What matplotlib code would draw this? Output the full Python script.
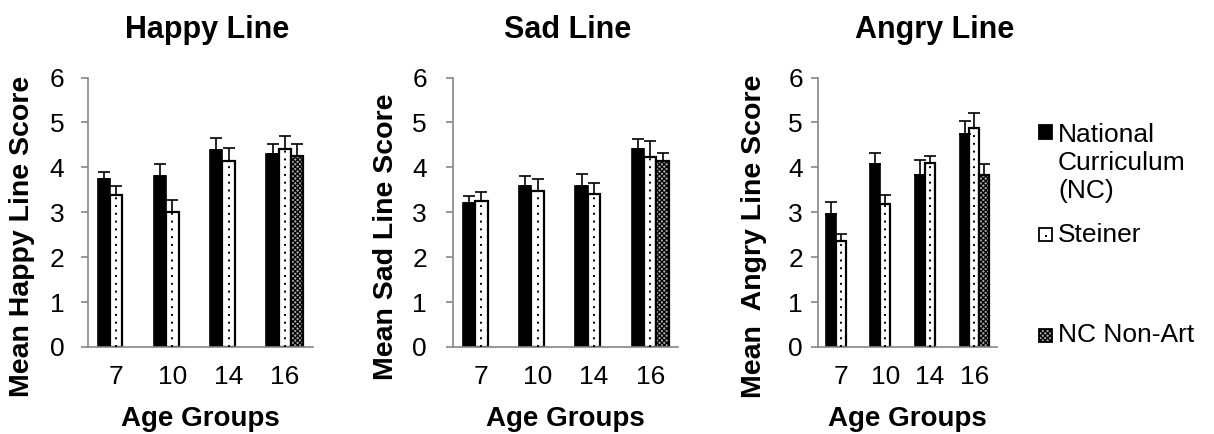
import numpy as np
import matplotlib
matplotlib.use("Agg")
import matplotlib.pyplot as plt
from matplotlib.patches import Rectangle

plt.rcParams['font.family'] = ['Liberation Sans', 'DejaVu Sans']
plt.rcParams['hatch.linewidth'] = 0.9

# data
age_groups = ['7', '10', '14', '16']

happy_nc = [3.75, 3.80, 4.38, 4.29]
happy_nc_err = [0.14, 0.28, 0.28, 0.22]
happy_st = [3.39, 3.00, 4.15, 4.40]
happy_st_err = [0.19, 0.28, 0.28, 0.29]
happy_na = [np.nan, np.nan, np.nan, 4.26]
happy_na_err = [0, 0, 0, 0.25]

sad_nc = [3.21, 3.58, 3.58, 4.41]
sad_nc_err = [0.15, 0.22, 0.28, 0.22]
sad_st = [3.26, 3.48, 3.40, 4.23]
sad_st_err = [0.20, 0.27, 0.26, 0.35]
sad_na = [np.nan, np.nan, np.nan, 4.14]
sad_na_err = [0, 0, 0, 0.17]

angry_nc = [2.97, 4.08, 3.83, 4.75]
angry_nc_err = [0.25, 0.23, 0.34, 0.28]
angry_st = [2.35, 3.19, 4.10, 4.88]
angry_st_err = [0.16, 0.20, 0.15, 0.32]
angry_na = [np.nan, np.nan, np.nan, 3.82]
angry_na_err = [0, 0, 0, 0.26]

W, H = 1214, 434
fig = plt.figure(figsize=(W / 100, H / 100), dpi=100)

def px_box(left, right, bottom, top):
    return [left / W, 1 - bottom / H, (right - left) / W, (bottom - top) / H]

GRAY = '#868686'
NA_FILL = '#a6a6a6'
BW = 0.22


def draw_panel(ax, nc, nc_err, st, st_err, na, na_err, ylabel, ylab_x, ytick_pad):
    x = np.arange(len(age_groups))
    zeros = np.zeros(len(x))
    ax.bar(x - BW, nc, BW, color='black', edgecolor='black', linewidth=1.2, zorder=2)
    ax.bar(x, st, BW, color='white', edgecolor='black', linewidth=1.6, zorder=2)
    ax.vlines(x, 0, st, colors='black', linestyles=(0, (1, 3)), linewidth=1.4, zorder=3)
    ax.bar(x + BW, na, BW, color=NA_FILL, edgecolor='black', hatch='xxxxxxx',
           linewidth=1.6, zorder=2)
    ax.errorbar(x - BW, nc, yerr=[zeros, nc_err], fmt='none', ecolor='black',
                elinewidth=1.2, capsize=4.5, capthick=1.2, zorder=4)
    ax.errorbar(x, st, yerr=[zeros, st_err], fmt='none', ecolor='black',
                elinewidth=1.2, capsize=4.5, capthick=1.2, zorder=4)
    ax.errorbar(x + BW, na, yerr=[zeros, na_err], fmt='none', ecolor='black',
                elinewidth=1.2, capsize=4.5, capthick=1.2, zorder=4)

    ax.set_xlim(-0.5, len(x) - 0.5)
    ax.set_ylim(0, 6)
    ax.set_yticks(range(7))
    ax.set_xticks(x)
    ax.set_xticklabels(age_groups)
    for s in ['top', 'right']:
        ax.spines[s].set_visible(False)
    for s in ['left', 'bottom']:
        ax.spines[s].set_color(GRAY)
        ax.spines[s].set_linewidth(1.2)
    ax.tick_params(axis='y', direction='out', length=5, color=GRAY, width=1.2,
                   labelsize=19, pad=ytick_pad)
    ax.tick_params(axis='x', length=0, labelsize=19, pad=13)
    ax.set_xlabel('Age Groups', fontsize=20, fontweight='bold', labelpad=12)
    ax.set_ylabel(ylabel, fontsize=20.5, fontweight='bold', va='center')
    ax.yaxis.set_label_coords(ylab_x, 0.41)


ax1 = fig.add_axes(px_box(88, 313, 347, 77.5))
ax2 = fig.add_axes(px_box(453.3, 678.3, 347, 77.5))
ax3 = fig.add_axes(px_box(818.3, 996.7, 347, 77.5))

draw_panel(ax1, happy_nc, happy_nc_err, happy_st, happy_st_err, happy_na, happy_na_err,
           'Mean Happy Line Score', (22.5 - 88) / 225, 12)
draw_panel(ax2, sad_nc, sad_nc_err, sad_st, sad_st_err, sad_na, sad_na_err,
           'Mean Sad Line Score', (386 - 453.3) / 225, 14)
draw_panel(ax3, angry_nc, angry_nc_err, angry_st, angry_st_err, angry_na, angry_na_err,
           'Mean  Angry Line Score', (754 - 818.3) / 178.4, 6)

# titles
for label, xc in [('Happy Line', 207.5), ('Sad Line', 568), ('Angry Line', 934.5)]:
    fig.text(xc / W, 1 - 30 / H, label, ha='center', va='center',
             fontsize=22, fontweight='bold')

# legend, drawn by hand to keep the uneven spacing of the original
legend_items = [('National\nCurriculum\n(NC)', 132, 163),
                ('Steiner', 235, 235),
                ('NC Non-Art', 335, 335)]
styles = [dict(facecolor='black', edgecolor='black'),
          dict(facecolor='white', edgecolor='black'),
          dict(facecolor=NA_FILL, edgecolor='black', hatch='xxxxxxx')]
sq = 13
for (label, marker_y, text_y), st in zip(legend_items, styles):
    fig.patches.append(Rectangle((1039 / W, 1 - (marker_y + sq / 2) / H), sq / W, sq / H,
                                 transform=fig.transFigure, linewidth=1.3, **st))
    fig.text(1058 / W, 1 - text_y / H, label, ha='left', va='center',
             fontsize=19, linespacing=1.2)
fig.patches.append(Rectangle((1044.5 / W, 1 - 237 / H), 2 / W, 2 / H,
                             transform=fig.transFigure, facecolor='black', edgecolor='none'))

fig.savefig('out.png', dpi=100)
